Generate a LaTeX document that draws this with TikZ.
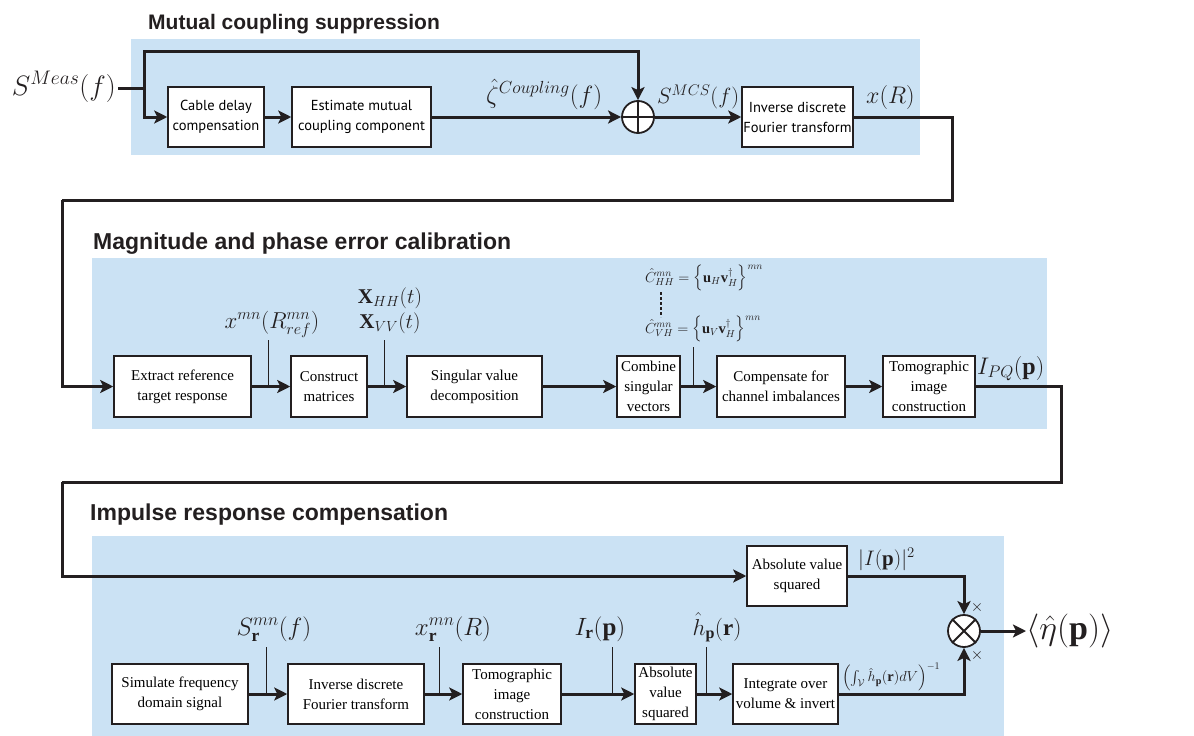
\RequirePackage{fix-cm}
\documentclass[tikz,border=0pt]{standalone}
\usepackage{amsmath}
\usepackage{fontspec}
\setmainfont{Liberation Serif}
\newfontfamily\headfont{Liberation Sans}
\newfontfamily\blocksans{PT Sans}
\usetikzlibrary{arrows.meta}

\definecolor{panelblue}{HTML}{CBE2F4}
\definecolor{ink}{HTML}{231F20}

\tikzset{
  panel/.style={fill=panelblue, draw=none},
  heading/.style={anchor=west, inner sep=0pt, text=ink,
    font=\headfont\bfseries\fontsize{21}{24}\selectfont},
  sblock/.style={draw=ink, line width=1.5pt, fill=white, align=center,
    inner sep=0pt, font=\blocksans\fontsize{14.5}{20}\selectfont},
  tblock/.style={draw=ink, line width=1.5pt, fill=white, align=center,
    inner sep=0pt, font=\fontsize{15}{20}\selectfont},
  wire/.style={draw=ink, line width=3pt, -{Stealth[length=13pt,width=13pt,inset=3pt]}},
  link/.style={draw=ink, line width=3pt},
  tap/.style={draw=ink, line width=1pt},
  junction/.style={circle, draw=ink, line width=1.8pt, fill=white,
    minimum size=32pt, inner sep=0pt},
  sig/.style={inner sep=0pt, text=ink, font=\fontsize{22}{26}\selectfont},
  smallsig/.style={inner sep=0pt, text=ink, font=\fontsize{14.5}{17}\selectfont},
}

\begin{document}
\begin{tikzpicture}[x=1pt, y=-1pt]
  \useasboundingbox (0,0) rectangle (1194,736);

  % mutual coupling suppression
  \fill[panel] (131,39) rectangle (920,155);
  \node[heading] (head1) at (148,24) {Mutual coupling suppression};

  \coordinate (sin) at (118,88);
  \coordinate (split) at (144,88);
  \coordinate (bypass) at (144,51);
  \node[sig, anchor=base east, font=\fontsize{28}{32}\selectfont] (smeas) at (116,95) {$S^{Meas}(f)$};

  \node[sblock, minimum width=96pt, minimum height=60pt] (cable) at (216,117) {Cable delay\\compensation};
  \node[sblock, minimum width=139pt, minimum height=60pt] (estim) at (361.5,117) {Estimate mutual\\coupling component};
  \node[junction] (plus) at (638,117) {};
  \draw[ink, line width=1.5pt] (plus.north) -- (plus.south) (plus.west) -- (plus.east);
  \node[sblock, minimum width=111pt, minimum height=60pt] (idft1) at (797.5,117) {Inverse discrete\\Fourier transform};

  \node[sig, anchor=base west, font=\fontsize{25}{29}\selectfont] (zeta) at (486,103) {$\hat{\zeta}^{Coupling}(f)$};
  \node[sig, anchor=base west] (smcs) at (657,103) {$S^{MCS}(f)$};
  \node[sig, anchor=base west, font=\fontsize{24}{28}\selectfont] (xr) at (866,103) {$x(R)$};

  \draw[link] (sin) -- (split);
  \draw[wire] (split) |- (cable.west);
  \draw[wire] (split) -- (bypass) -| (plus.north);
  \draw[wire] (cable) -- (estim);
  \draw[wire] (estim) -- (plus);
  \draw[wire] (plus) -- (idft1);

  \coordinate (back1a) at (952,200);
  \coordinate (back1b) at (62,200);

  % magnitude and phase error calibration
  \fill[panel] (92,258) rectangle (1047,429);
  \node[heading, font=\headfont\bfseries\fontsize{23}{26}\selectfont] (head2) at (93,244) {Magnitude and phase error calibration};

  \node[tblock, minimum width=137pt, minimum height=61pt] (extract) at (182.5,386.5) {Extract reference\\target response};
  \node[tblock, minimum width=76pt, minimum height=61pt] (construct) at (329,386.5) {Construct\\matrices};
  \node[tblock, minimum width=135pt, minimum height=61pt] (svd) at (474.5,386.5) {Singular value\\decomposition};
  \node[tblock, minimum width=63pt, minimum height=61pt] (combine) at (648.5,386.5) {Combine\\singular\\vectors};
  \node[tblock, minimum width=128pt, minimum height=61pt] (balance) at (781,386.5) {Compensate for\\channel imbalances};
  \node[tblock, minimum width=92pt, minimum height=61pt] (tomoA) at (929,386.5) {Tomographic\\image\\construction};

  \coordinate (tapA) at (268,386.5);  \coordinate (tapAtop) at (268,340);
  \coordinate (tapB) at (384,386.5);  \coordinate (tapBtop) at (384,340);
  \coordinate (tapC) at (693,386.5);  \coordinate (tapCtop) at (693,347);
  \draw[tap] (tapAtop) -- (tapA);
  \draw[tap] (tapBtop) -- (tapB);
  \draw[tap] (tapCtop) -- (tapC);

  \node[sig, anchor=base, font=\fontsize{23}{27}\selectfont] (xref) at (272,328) {$x^{mn}(R^{mn}_{ref})$};
  \node[sig, anchor=base, font=\fontsize{21}{25}\selectfont] (xhh) at (390,303) {$\mathbf{X}_{HH}(t)$};
  \node[sig, anchor=base, font=\fontsize{21}{25}\selectfont] (xvv) at (390,328) {$\mathbf{X}_{VV}(t)$};
  \node[smallsig, anchor=base west] (chh) at (645,282) {$\hat{C}^{mn}_{HH}=\left\{\mathbf{u}_H\mathbf{v}_H^{\dagger}\right\}^{mn}$};
  \node[smallsig, anchor=base west] (cvh) at (645,333) {$\hat{C}^{mn}_{VH}=\left\{\mathbf{u}_V\mathbf{v}_H^{\dagger}\right\}^{mn}$};
  \coordinate (dotsA) at (661,292);
  \coordinate (dotsB) at (661,317);
  \draw[ink, line width=2pt, dash pattern=on 2.5pt off 2.5pt] (dotsA) -- (dotsB);
  \node[sig, anchor=base west, font=\fontsize{24}{28}\selectfont] (ipq) at (977,374) {$I_{PQ}(\mathbf{p})$};

  \draw[link] (idft1.east) -| (back1a) -- (back1b);
  \draw[wire] (back1b) |- (extract.west);
  \draw[wire] (extract) -- (construct);
  \draw[wire] (construct) -- (svd);
  \draw[wire] (svd) -- (combine);
  \draw[wire] (combine) -- (balance);
  \draw[wire] (balance) -- (tomoA);

  \coordinate (back2a) at (1061,482);
  \coordinate (back2b) at (62,482);

  % impulse response compensation
  \fill[panel] (92,536) rectangle (1004,736);
  \node[heading, font=\headfont\bfseries\fontsize{23}{26}\selectfont] (head3) at (90,515) {Impulse response compensation};

  \node[tblock, minimum width=100pt, minimum height=60pt] (absA) at (797,576) {Absolute value\\squared};
  \node[junction] (times) at (964,631) {};
  \draw[ink, line width=2pt] (times.north west) -- (times.south east) (times.north east) -- (times.south west);
  \node[smallsig, font=\fontsize{16}{18}\selectfont] (signA) at (977,607) {$\times$};
  \node[smallsig, font=\fontsize{16}{18}\selectfont] (signB) at (977,655) {$\times$};
  \node[sig, anchor=west, font=\fontsize{34}{38}\selectfont] (eta) at (1026,631) {$\langle\hat{\eta}(\mathbf{p})\rangle$};
  \node[sig, anchor=base west, font=\fontsize{21}{25}\selectfont] (isq) at (858,565) {$|I(\mathbf{p})|^2$};

  \node[tblock, minimum width=136pt, minimum height=60pt] (simul) at (180,694) {Simulate frequency\\domain signal};
  \node[tblock, minimum width=136pt, minimum height=60pt] (idft2) at (356,694) {Inverse discrete\\Fourier transform};
  \node[tblock, minimum width=98pt, minimum height=60pt] (tomoB) at (512,694) {Tomographic\\image\\construction};
  \node[tblock, minimum width=61pt, minimum height=60pt] (absB) at (665.5,694) {Absolute\\value\\squared};
  \node[tblock, minimum width=105pt, minimum height=60pt] (integ) at (785.5,694) {Integrate over\\volume \& invert};

  \coordinate (tapD) at (266,694);  \coordinate (tapDtop) at (266,647);
  \coordinate (tapE) at (439,694);  \coordinate (tapEtop) at (439,647);
  \coordinate (tapF) at (612,694);  \coordinate (tapFtop) at (612,647);
  \coordinate (tapG) at (706,694);  \coordinate (tapGtop) at (706,647);
  \draw[tap] (tapDtop) -- (tapD);
  \draw[tap] (tapEtop) -- (tapE);
  \draw[tap] (tapFtop) -- (tapF);
  \draw[tap] (tapGtop) -- (tapG);

  \node[sig, anchor=base, font=\fontsize{25}{29}\selectfont] (ssim) at (274,635) {$S^{mn}_{\mathbf{r}}(f)$};
  \node[sig, anchor=base, font=\fontsize{25}{29}\selectfont] (xsim) at (453,635) {$x^{mn}_{\mathbf{r}}(R)$};
  \node[sig, anchor=base, font=\fontsize{25}{29}\selectfont] (isim) at (600,635) {$I_{\mathbf{r}}(\mathbf{p})$};
  \node[sig, anchor=base, font=\fontsize{23}{27}\selectfont] (hsim) at (717,635) {$\hat{h}_{\mathbf{p}}(\mathbf{r})$};
  \node[smallsig, anchor=west] (hint) at (842,677) {$\left(\int_{\mathcal{V}}\hat{h}_{\mathbf{p}}(\mathbf{r})dV\right)^{-1}$};

  \draw[link] (tomoA.east) -| (back2a) -- (back2b);
  \draw[wire] (back2b) |- (absA.west);
  \draw[wire] (absA.east) -| (times.north);
  \draw[wire] (simul) -- (idft2);
  \draw[wire] (idft2) -- (tomoB);
  \draw[wire] (tomoB) -- (absB);
  \draw[wire] (absB) -- (integ);
  \draw[wire] (integ.east) -| (times.south);
  \draw[wire] (times) -- (eta);
\end{tikzpicture}
\end{document}
